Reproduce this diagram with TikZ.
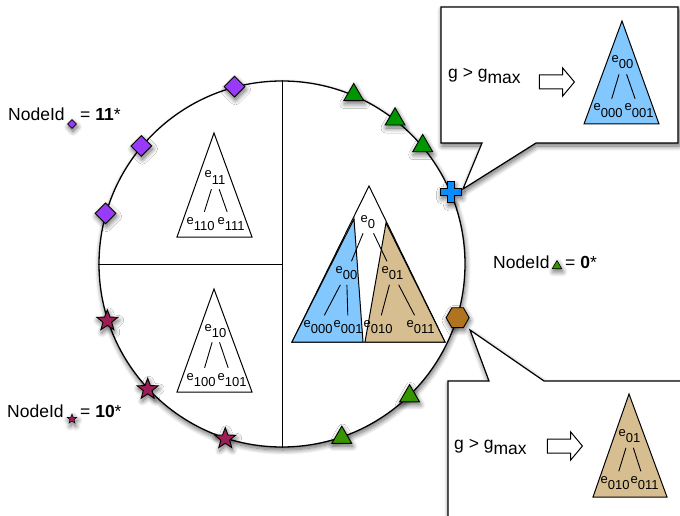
\documentclass[tikz,border=0pt]{standalone}
\usepackage{fontspec}
\setmainfont{Liberation Sans}
\usetikzlibrary{shapes.geometric,shapes.arrows,shadows.blur,calc}
\definecolor{nodePurple}{RGB}{153,58,250}
\definecolor{triGreen}{RGB}{0,150,0}
\definecolor{triOlive}{RGB}{55,150,0}
\definecolor{starRed}{RGB}{155,30,85}
\definecolor{hexBrown}{RGB}{176,116,32}
\definecolor{crossBlue}{RGB}{10,140,255}
\definecolor{subBlue}{RGB}{130,200,255}
\definecolor{subTan}{RGB}{215,190,145}
\newcommand{\esub}[1]{e\raisebox{-6pt}{#1}}

\begin{document}
\begin{tikzpicture}[x=1pt,y=1pt,
  sh/.style={blur shadow={shadow xshift=1pt, shadow yshift=-3pt,
             shadow blur radius=5pt, shadow blur steps=10, shadow opacity=60}},
  ring/.style={circle, draw, line width=1.3pt, fill=white, inner sep=0pt,
               minimum size=366pt, sh},
  div/.style={line width=1pt},
  tri/.style={draw, line width=1pt, line join=miter},
  elab/.style={anchor=base west, font=\fontsize{13}{14}\selectfont,
               inner xsep=0.5pt, inner ysep=5pt},
  tedge/.style={line width=0.9pt},
  mk/.style={draw, line width=0.9pt, inner sep=0pt, sh},
  dia/.style={mk, diamond, fill=nodePurple, minimum size=21pt},
  tria/.style={mk, regular polygon, regular polygon sides=3, fill=triGreen, minimum size=23pt},
  trib/.style={tria, fill=triOlive},
  starmk/.style={mk, star, star points=5, star point ratio=2.4, fill=starRed, minimum size=22pt},
  hexmk/.style={mk, regular polygon, regular polygon sides=6, fill=hexBrown, minimum size=23pt},
  plusmk/.style={draw, line width=0.9pt, fill=crossBlue, line join=miter, sh},
  smallDia/.style={dia, minimum size=9pt, line width=0.6pt},
  smallStar/.style={starmk, minimum size=10pt, line width=0.5pt},
  smallTri/.style={trib, minimum size=11pt, line width=0.6pt},
  callout/.style={draw, line width=1.2pt, fill=white, line join=miter, sh},
  gtext/.style={anchor=base west, inner sep=0pt, font=\fontsize{17.5}{20}\selectfont},
  idtext/.style={anchor=base west, inner sep=0pt, font=\fontsize{17.5}{20}\selectfont},
  hollow/.style={single arrow, draw, line width=1pt, fill=white, inner xsep=0pt,
                 inner ysep=6.5pt, single arrow head extend=7pt,
                 single arrow tip angle=100, minimum height=35pt},
]
\clip (0,0) rectangle (680,-516);

% ================= ring of nodes =================
\node[ring] (ring) at (282,-264) {};
\draw[div] (ring.north) -- (ring.south);
\draw[div] (ring.west) -- (ring.center);

% ================= sub-trees inside the ring =================
% e11 (upper left)
\draw[tri, fill=white] (214,-133) -- (252,-237) -- (177,-237) -- cycle;
\node[elab] (t11)  at (204,-178) {\esub{11}};
\node[elab] (t110) at (186,-224) {\esub{110}};
\node[elab] (t111) at (217,-224) {\esub{111}};
\draw[tedge] (t11) -- (t110);
\draw[tedge] (t11) -- (t111);

% e10 (lower left)
\draw[tri, fill=white] (214,-289) -- (252,-392) -- (177,-392) -- cycle;
\node[elab] (t10)  at (204,-331) {\esub{10}};
\node[elab] (t100) at (186,-380) {\esub{100}};
\node[elab] (t101) at (217,-380) {\esub{101}};
\draw[tedge] (t10) -- (t100);
\draw[tedge] (t10) -- (t101);

% e0 (right half), split into e00 and e01
\draw[tri, fill=white] (369,-186) -- (445,-342) -- (292,-342) -- cycle;
\draw[tri, fill=subBlue] (354,-219) -- (363,-342) -- (292,-342) -- cycle;
\draw[tri, fill=subTan] (386,-223) -- (445,-342) -- (365,-342) -- cycle;
\node[elab] (c0)   at (360,-222)   {\esub{0}};
\node[elab] (c00)  at (335,-273.5) {\esub{00}};
\node[elab] (c01)  at (381,-273.5) {\esub{01}};
\node[elab] (c000) at (303,-327.5) {\esub{000}};
\node[elab] (c001) at (333,-327.5) {\esub{001}};
\node[elab] (c010) at (363,-327.5) {\esub{010}};
\node[elab] (c011) at (406,-327.5) {\esub{011}};
\draw[tedge] (c0) -- (c00);
\draw[tedge] (c0) -- (c01);
\draw[tedge] (c00) -- (c000);
\draw[tedge] (c00) -- (c001);
\draw[tedge] (c01) -- (c010);
\draw[tedge] (c01) -- (c011);

% ================= peers on the ring =================
\node[dia] (d1) at (ring.105) {};
\node[dia] (d2) at (ring.140) {};
\node[dia] (d3) at (ring.164) {};
\node[tria] (g1) at (ring.67) {};
\node[tria] (g2) at (ring.52) {};
\node[tria] (g3) at (ring.40) {};
\node[trib] (g4) at (ring.-46) {};
\node[trib] (g5) at (ring.-71) {};
\node[starmk] (s1) at (ring.198) {};
\node[starmk] (s2) at (ring.223) {};
\node[starmk] (s3) at (ring.252) {};
\node[hexmk] (hex) at (ring.-17) {};
\coordinate (cross) at (ring.23);
\draw[plusmk] (cross) ++(-3.5,10.5) -- ++(7,0) -- ++(0,-7) -- ++(7,0) -- ++(0,-7)
  -- ++(-7,0) -- ++(0,-7) -- ++(-7,0) -- ++(0,7) -- ++(-7,0) -- ++(0,7) -- ++(7,0) -- cycle;

% ================= callout: split of e00 =================
\coordinate (tipA) at (463,-189);
\draw[callout] (441,-7) -- (678,-7) -- (678,-143) -- (536,-143) -- (tipA)
  -- (482,-143) -- (441,-143) -- cycle;
\node[gtext] (gA) at (448,-79) {g > g\raisebox{-5pt}{max}};
\node[hollow] (arA) at (554,-82) {};
\draw[tri, fill=subBlue] (622,-21) -- (659,-124) -- (584,-124) -- cycle;
\node[elab] (u00)  at (611,-63)  {\esub{00}};
\node[elab] (u000) at (593,-111) {\esub{000}};
\node[elab] (u001) at (624,-111) {\esub{001}};
\draw[tedge] (u00) -- (u000);
\draw[tedge] (u00) -- (u001);

% ================= callout: split of e01 =================
\coordinate (tipB) at (470,-330);
\draw[callout] (448,-381) -- (489,-381) -- (tipB) -- (544,-381) -- (700,-381)
  -- (700,-540) -- (448,-540) -- cycle;
\node[gtext] (gB) at (454,-449) {g > g\raisebox{-5pt}{max}};
\node[hollow] (arB) at (562,-446) {};
\draw[tri, fill=subTan] (629,-394) -- (667,-497) -- (593,-497) -- cycle;
\node[elab] (v01)  at (618,-436.5) {\esub{01}};
\node[elab] (v010) at (600,-483.5) {\esub{010}};
\node[elab] (v011) at (630,-483.5) {\esub{011}};
\draw[tedge] (v01) -- (v010);
\draw[tedge] (v01) -- (v011);

% ================= NodeId labels =================
\node[idtext] (idA) at (8,-121) {NodeId};
\node[smallDia] (idAmk) at (72,-124) {};
\node[idtext] (idAval) at (80,-121) {= \textbf{11}*};

\node[idtext] (idB) at (7,-417) {NodeId};
\node[smallStar] (idBmk) at (72,-419) {};
\node[idtext] (idBval) at (80,-417) {= \textbf{10}*};

\node[idtext] (idC) at (493,-268) {NodeId};
\node[smallTri] (idCmk) at (557,-266) {};
\node[idtext] (idCval) at (565,-268) {= \textbf{0}*};

\end{tikzpicture}
\end{document}
